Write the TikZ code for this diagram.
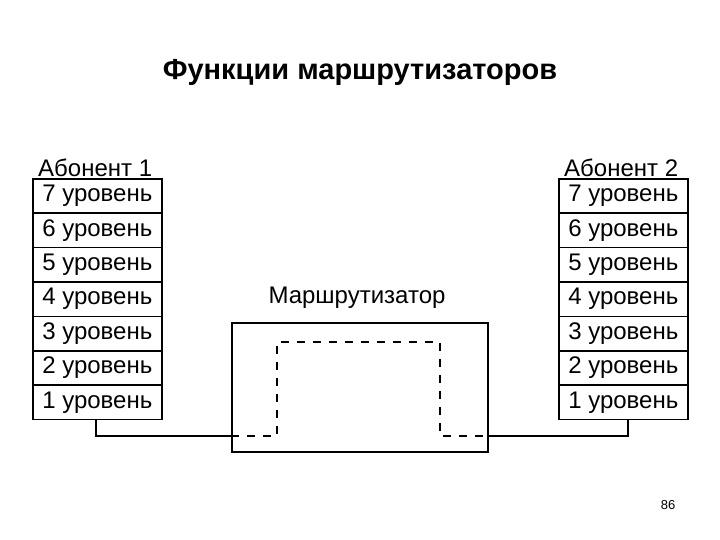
\documentclass[tikz,border=0pt]{standalone}
\usepackage{fontspec}
\setmainfont{Liberation Sans}
\begin{document}
\begin{tikzpicture}[x=1pt,y=-1pt,
  lvl/.style={draw,line width=1.6pt,minimum width=129pt,minimum height=34.4pt,inner sep=0pt,font=\fontsize{24}{24}\selectfont,anchor=north west},
  lbl/.style={font=\fontsize{24}{24}\selectfont},
  wire/.style={line width=2.6pt},
  dsh/.style={line width=1.8pt,dash pattern=on 8pt off 8pt}]
\useasboundingbox (0,0) rectangle (720,540);
\node[font=\bfseries\fontsize{29}{29}\selectfont] (title) at (360,72) {Функции маршрутизаторов};
\foreach \s/\x in {L/32,R/558}{
  \foreach \i in {1,...,7}{
    \pgfmathtruncatemacro{\n}{8-\i}
    \node[lvl] (\s\n) at (\x,{178+(\i-1)*34.4}) {\n\ уровень};
  }
}
\node[lbl,anchor=south west,inner sep=1pt] (ab1) at (37,178) {Абонент 1};
\node[lbl,anchor=south west,inner sep=1pt] (ab2) at (563,178) {Абонент 2};
\node[draw,line width=1.6pt,minimum width=256pt,minimum height=129pt,inner sep=0pt,anchor=north west] (rt) at (231,322) {};
\node[lbl] (rtl) at (357,298) {Маршрутизатор};
\coordinate (a) at (96,436);
\coordinate (b) at (231,436);
\coordinate (c) at (487,436);
\coordinate (d) at (628,436);
\draw[wire] (L1.south -| a) -- (a) -- (b);
\draw[wire] (c) -- (d) -- (R1.south -| d);
\draw[dsh] (b) -- (277,436) -- (277,342) -- (440,342) -- (440,436) -- (c);
\node[font=\fontsize{13}{13}\selectfont] (pg) at (668,505) {86};
\end{tikzpicture}
\end{document}
